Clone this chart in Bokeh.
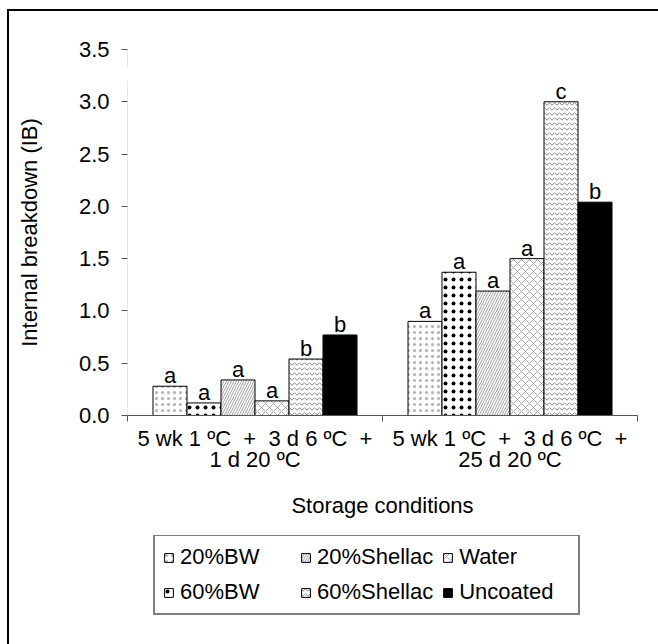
from bokeh.plotting import figure
from bokeh.layouts import column
from bokeh.models import FixedTicker, Legend, LegendItem, Range1d, PolyAnnotation
from bokeh.core.properties import value
from bokeh.embed import file_html
from bokeh.resources import INLINE

# ---- data ----
NB = "\u00a0"
group_labels = [f"5 wk 1 ºC{NB}{NB}+{NB}{NB}3 d 6 ºC{NB}{NB}+\n1 d 20 ºC",
                f"5 wk 1 ºC{NB}{NB}+{NB}{NB}3 d 6 ºC{NB}{NB}+\n25 d 20 ºC"]
treatments = ["20%BW", "60%BW", "20%Shellac", "Water", "60%Shellac", "Uncoated"]
ib_group1 = [0.28, 0.12, 0.34, 0.14, 0.54, 0.77]
ib_group2 = [0.90, 1.37, 1.19, 1.50, 3.00, 2.04]
letters_group1 = ["a", "a", "a", "a", "b", "b"]
letters_group2 = ["a", "a", "a", "a", "c", "b"]
y_ticks = [0.0, 0.5, 1.0, 1.5, 2.0, 2.5, 3.0, 3.5]
legend_order = ["20%BW", "20%Shellac", "Water", "60%BW", "60%Shellac", "Uncoated"]

FONT = "Liberation Sans"
FS = "22px"
AXC = "#555555"

styles = {
    "20%BW":      dict(fill_color="white", hatch_pattern="dot", hatch_color="#b0b0b0", hatch_scale=6, hatch_weight=1),
    "60%BW":      dict(fill_color="white", hatch_pattern="dot", hatch_color="black", hatch_scale=8, hatch_weight=1),
    "20%Shellac": dict(fill_color="white", hatch_pattern="right_diagonal_line", hatch_color="#888888", hatch_scale=5, hatch_weight=0.8),
    "Water":      dict(fill_color="white", hatch_pattern="diagonal_cross", hatch_color="#999999", hatch_scale=8, hatch_weight=0.8),
    "60%Shellac": dict(fill_color="white", hatch_pattern="horizontal_wave", hatch_color="#666666", hatch_scale=5, hatch_weight=0.8),
    "Uncoated":   dict(fill_color="black"),
}

W = 649
H1 = 524
H2 = 109

p = figure(width=W, height=H1, output_backend="svg", toolbar_location=None,
           x_range=Range1d(0, 2), y_range=Range1d(0, 3.5),
           min_border_left=118, min_border_right=21, min_border_top=38, min_border_bottom=120)
p.outline_line_color = None
p.xgrid.visible = False
p.ygrid.visible = False
p.background_fill_color = "white"
p.border_fill_color = "white"

ngr = len(treatments)
bw = 0.8 / ngr
for j, t in enumerate(treatments):
    xs = [g + 0.1 + (j + 0.5) * bw for g in range(2)]
    tops = [ib_group1[j], ib_group2[j]]
    p.vbar(x=xs, top=tops, width=bw, line_color="black", line_width=1, **styles[t])
    labs = [letters_group1[j], letters_group2[j]]
    p.text(x=xs, y=tops, text=labs, text_align="center", text_baseline="bottom",
           text_font=value(FONT), text_font_size=FS, text_color="black", y_offset=2)

# y axis
p.yaxis.ticker = FixedTicker(ticks=y_ticks)
p.yaxis.major_label_overrides = {t: f"{t:.1f}" for t in y_ticks}
p.yaxis.axis_label = "Internal breakdown (IB)"
p.yaxis.axis_label_text_font = FONT
p.yaxis.axis_label_text_font_style = "normal"
p.yaxis.axis_label_text_font_size = FS
p.yaxis.axis_label_text_color = "black"
p.yaxis.axis_label_standoff = 34
p.yaxis.major_label_text_font = FONT
p.yaxis.major_label_text_font_size = FS
p.yaxis.major_label_text_color = "black"
p.yaxis.major_tick_out = 6
p.yaxis.major_tick_in = 0
p.yaxis.major_tick_line_color = AXC
p.yaxis.minor_tick_out = 0
p.yaxis.minor_tick_in = 0
p.yaxis.axis_line_color = None
p.yaxis.major_label_standoff = 12

# x axis
p.xaxis.ticker = FixedTicker(ticks=[0.5, 1.5], minor_ticks=[0, 1, 2])
p.xaxis.major_label_overrides = {0.5: group_labels[0], 1.5: group_labels[1]}
p.xaxis.major_tick_out = 0
p.xaxis.major_tick_in = 0
p.xaxis.minor_tick_out = 6
p.xaxis.minor_tick_in = 0
p.xaxis.minor_tick_line_color = AXC
p.xaxis.axis_line_color = AXC
p.xaxis.major_label_text_font = FONT
p.xaxis.major_label_text_font_size = FS
p.xaxis.major_label_text_color = "black"
p.xaxis.major_label_text_line_height = 0.85
p.xaxis.major_label_standoff = 4
p.xaxis.axis_label = "Storage conditions"
p.xaxis.axis_label_text_font = FONT
p.xaxis.axis_label_text_font_style = "normal"
p.xaxis.axis_label_text_font_size = FS
p.xaxis.axis_label_text_color = "black"
p.xaxis.axis_label_standoff = 18

# y axis line with small break near the top
p.add_layout(PolyAnnotation(xs=[0, 0], ys=[0, 3.2], fill_alpha=0, line_color=AXC, line_width=1, level="overlay"))
p.add_layout(PolyAnnotation(xs=[0, 0], ys=[3.33, 3.5], fill_alpha=0, line_color=AXC, line_width=1, level="overlay"))

# legend figure (its frame is aligned with the chart frame by the column layout)
p2 = figure(width=W, height=H2, output_backend="svg", toolbar_location=None,
            x_range=Range1d(0, 1), y_range=Range1d(0, 1),
            x_axis_type=None, y_axis_type=None, min_border=0)
p2.grid.visible = False
p2.outline_line_color = None
p2.background_fill_color = "white"
p2.border_fill_color = "white"
leg_r = {}
for t in treatments:
    leg_r[t] = p2.vbar(x=[5], top=[0], width=0.1, line_color="black", line_width=1, **styles[t])

items = [LegendItem(label=t, renderers=[leg_r[t]]) for t in legend_order]
legend = Legend(items=items, orientation="horizontal", ncols=3, location=(26, 29),
                label_text_font=FONT, label_text_font_size=FS, label_text_color="black",
                glyph_width=11, glyph_height=11, label_standoff=6,
                label_width=111, spacing=9, padding=8, margin=0,
                border_line_color="black", border_line_width=2,
                background_fill_color="white", background_fill_alpha=1)
p2.add_layout(legend, "center")

layout = column(p, p2, spacing=0)
layout.styles = {"margin-left": "7px", "margin-top": "9px",
                 "border-left": "2px solid black", "border-top": "2px solid black"}

open("out.html", "w").write(file_html(layout, INLINE))
